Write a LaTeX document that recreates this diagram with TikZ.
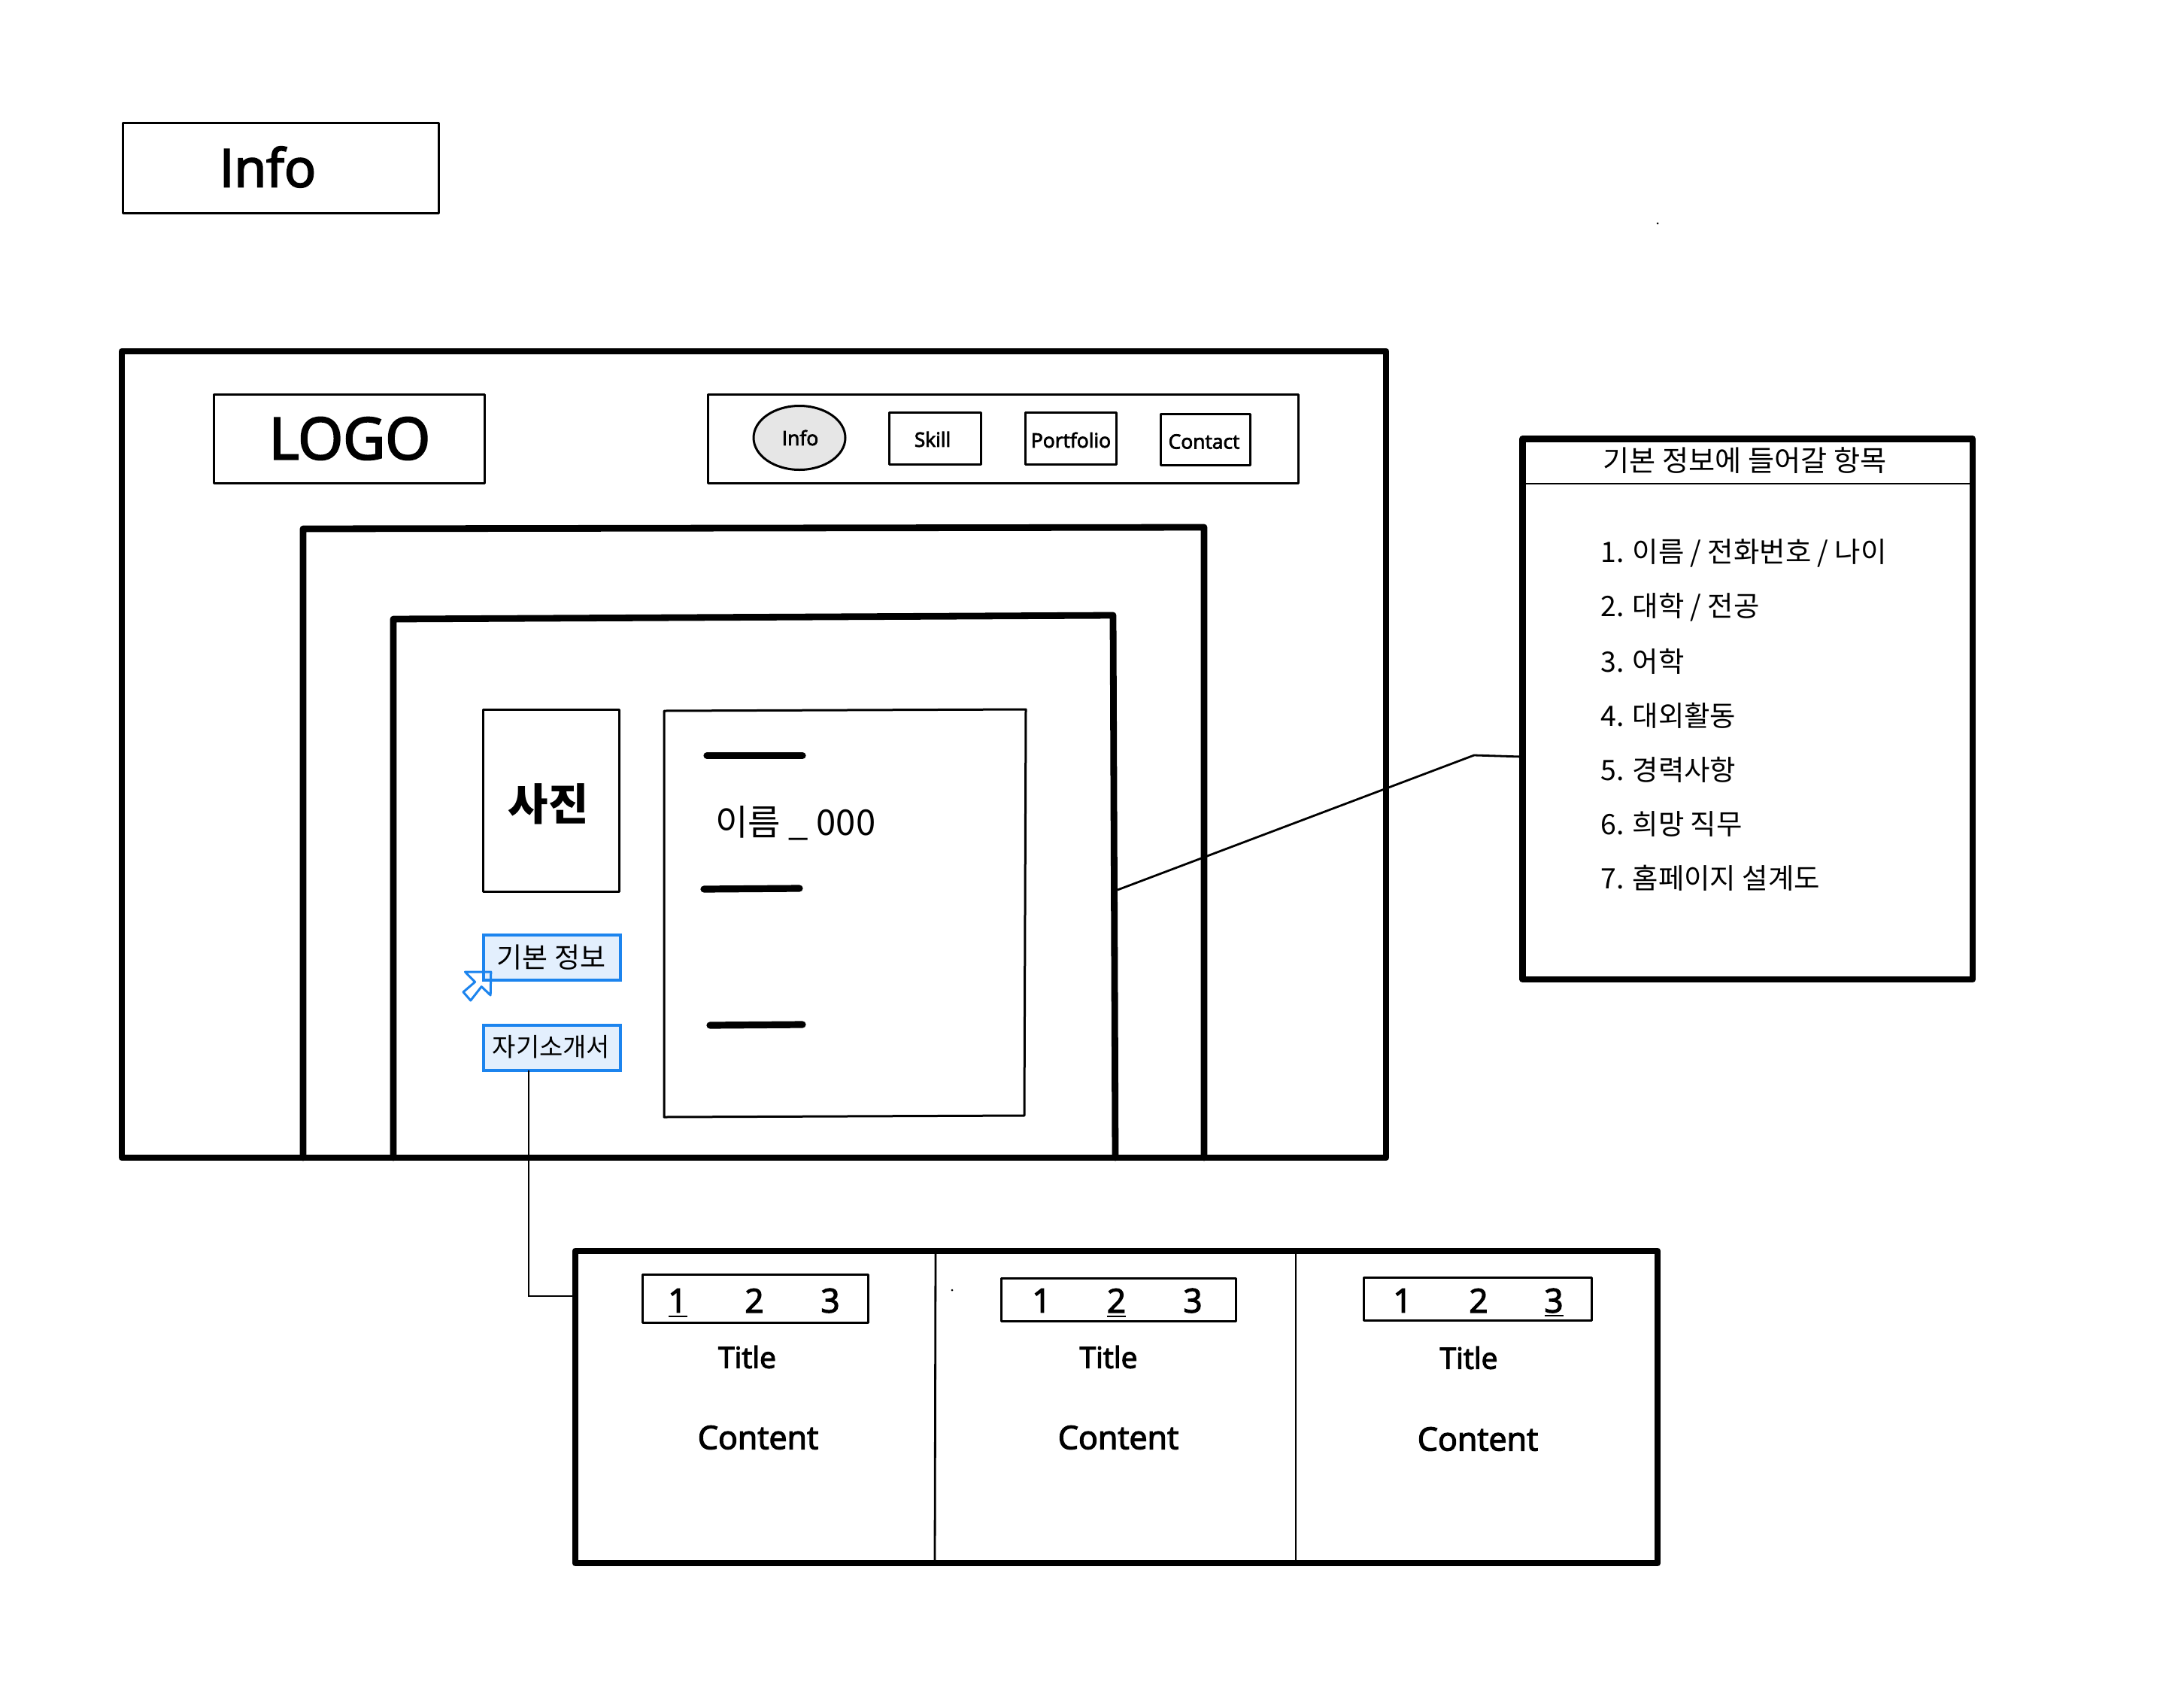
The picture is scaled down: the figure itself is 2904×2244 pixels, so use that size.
\documentclass[tikz,border=0pt]{standalone}
\usepackage{fontspec}
\usetikzlibrary{fit,shapes.geometric}
\setmainfont{Open Sans}[FakeBold=3]
\newfontfamily\kr{Noto Sans CJK KR}
\definecolor{bluebd}{HTML}{1C84EE}
\definecolor{bluefl}{HTML}{E3EFFD}
\definecolor{greyfl}{HTML}{E6E6E6}
\tikzset{
 heavy/.style={draw=black,line width=4.4pt,line join=round,inner sep=0pt,outer sep=0pt},
 thin box/.style={draw=black,line width=1.5pt,line join=round,inner sep=0pt,outer sep=0pt},
 thick rule/.style={draw=black,line width=4.4pt,line join=round,line cap=round},
 hair/.style={draw=black,line width=1.4pt},
 bar/.style={draw=black,line width=4.6pt,line cap=round},
 bluebox/.style={draw=bluebd,fill=bluefl,line width=1.6pt,inner sep=0pt,outer sep=0pt},
 comic/.style={inner sep=0pt},
 krtext/.style={inner sep=0pt,font=\kr},
 listitem/.style={krtext,anchor=west,font=\kr\fontsize{18.7}{23}\selectfont},
 navtext/.style={comic,font=\fontsize{13.2}{16}\selectfont},
 tabtitle/.style={comic,font=\fontsize{19.5}{23}\selectfont},
 tabcontent/.style={comic,font=\fontsize{21.5}{26}\selectfont},
 tabdigit/.style={comic,font=\fontsize{22}{26}\selectfont},
}
\begin{document}
\begin{tikzpicture}[x=0.5pt,y=-0.5pt]
\useasboundingbox (0,0) rectangle (2904,2244);
\fill[white] (0,0) rectangle (2904,2244);
% title
\node[thin box,fit={(163,163)(583,283)}] (titlebox) {};
\node[comic,font=\fontsize{35}{42}\selectfont] (titletext) at (356,222) {Info};
% page frame
\node[heavy,fit={(162,467)(1843,1539)}] (page) {};
\draw[thick rule] (403,1539) -- (403,703) -- (1601,701) -- (1601,1539);
\draw[thick rule] (523,1539) -- (523,823) -- (1480,818) -- (1483,1539);
% header
\node[thin box,fit={(284,524)(644,642)}] (logobox) {};
\node[comic,font=\fontsize{38.5}{46}\selectfont] (logotext) at (465,583) {LOGO};
\node[thin box,fit={(941,524)(1726,642)}] (nav) {};
\node[thin box,fill=greyfl,ellipse,minimum width=61pt,minimum height=42.5pt] (navinfo) at (1063,582) {};
\node[thin box,fit={(1182,548)(1304,617)}] (navskill) {};
\node[thin box,fit={(1363,548)(1484,617)}] (navport) {};
\node[thin box,fit={(1543,550)(1662,618)}] (navcont) {};
\node[navtext] at (1064,582) {Info};
\node[navtext] at (1240,584) {Skill};
\node[navtext] at (1424,585) {Portfolio};
\node[navtext] at (1601,587) {Contact};
% content
\node[thin box,fit={(642,943)(823,1185)}] (photo) {};
\node[krtext,font=\kr\bfseries\fontsize{29}{34}\selectfont] (phototext) at (729,1069) {사진};
\draw[thin box] (883,945) -- (1364,943) -- (1362,1483) -- (883,1485) -- cycle;
\draw[bar] (940,1004.5) -- (1067,1004.5);
\draw[bar] (936,1182) -- (1063,1181);
\draw[bar] (944,1363) -- (1067,1362);
\node[krtext,anchor=west,font=\kr\fontsize{23.6}{29}\selectfont] (nametext) at (951,1094) {이름 \_ 000};
\node[bluebox,fit={(643,1243)(825,1303)}] (basic) {};
\node[krtext,font=\kr\fontsize{18.5}{22}\selectfont] at (733,1273) {기본 정보};
\node[bluebox,fit={(643,1363)(825,1423)}] (selfintro) {};
\node[krtext,font=\kr\fontsize{17}{20}\selectfont] at (733,1392) {자기소개서};
\draw[draw=bluebd,line width=1.5pt,line join=round] (618.4,1292) -- (652.8,1292) -- (652.2,1323) -- (640.2,1311.6) -- (625.8,1330) -- (616,1318.8) -- (631.6,1305.4) -- cycle;
% info panel
\node[heavy,fit={(2024.5,583.5)(2623,1302)}] (panel) {};
\draw[hair] (panel.west |- 0,643) -- (panel.east |- 0,643);
\node[krtext,font=\kr\fontsize{19.1}{23}\selectfont] (paneltitle) at (2320,612) {기본 정보에 들어갈 항목};
\node[listitem] at (2128,735.5) {1. 이름 / 전화번호 / 나이};
\node[listitem] at (2128,807.5) {2. 대학 / 전공};
\node[listitem] at (2128,879.5) {3. 어학};
\node[listitem] at (2128,951.5) {4. 대외활동};
\node[listitem] at (2128,1023.5) {5. 경력사항};
\node[listitem] at (2128,1095.5) {6. 희망 직무};
\node[listitem] at (2128,1167.5) {7. 홈페이지 설계도};
% link to panel
\coordinate (frameedge) at (1486,1183);
\coordinate (kink) at (1960,1004);
\coordinate (panelhit) at (2024,1006);
\draw[hair] (frameedge) -- (kink) -- (panelhit);
% tabs
\node[heavy,fit={(765,1663)(2204,2078)}] (tabs) {};
\draw[hair] (1244,1663) -- (1243,2078);
\draw[hair] (tabs.north -| 1723,0) -- (tabs.south -| 1723,0);
\coordinate (selfdrop) at (703,1423);
\coordinate (selfturn) at (703,1723);
\draw[hair] (selfdrop) -- (selfturn) -- (tabs.west |- selfturn);
\node[thin box,fit={(854,1694)(1154,1758)}] (pagerA) {};
\node[thin box,fit={(1331,1699)(1643,1756)}] (pagerB) {};
\node[thin box,fit={(1813,1698)(2116,1755)}] (pagerC) {};
\node[tabdigit] at (901,1729) {1};
\node[tabdigit] at (1003,1729) {2};
\node[tabdigit] at (1104,1729) {3};
\node[tabdigit] at (1385,1729) {1};
\node[tabdigit] at (1484.5,1729) {2};
\node[tabdigit] at (1586,1729) {3};
\node[tabdigit] at (1865,1729) {1};
\node[tabdigit] at (1966,1729) {2};
\node[tabdigit] at (2066,1729) {3};
\draw[hair] (889,1750) -- (914,1750);
\draw[hair] (1472,1750) -- (1497,1750);
\draw[hair] (2054,1749) -- (2079,1749);
\node[tabtitle] at (993.5,1804) {Title};
\node[tabtitle] at (1474,1804) {Title};
\node[tabtitle] at (1953,1805) {Title};
\node[tabcontent] at (1008,1911) {Content};
\node[tabcontent] at (1487,1911) {Content};
\node[tabcontent] at (1965,1913) {Content};
% specks
\fill (1266,1715) circle (1.5);
\fill (2204,297) circle (1.5);
\end{tikzpicture}
\end{document}
